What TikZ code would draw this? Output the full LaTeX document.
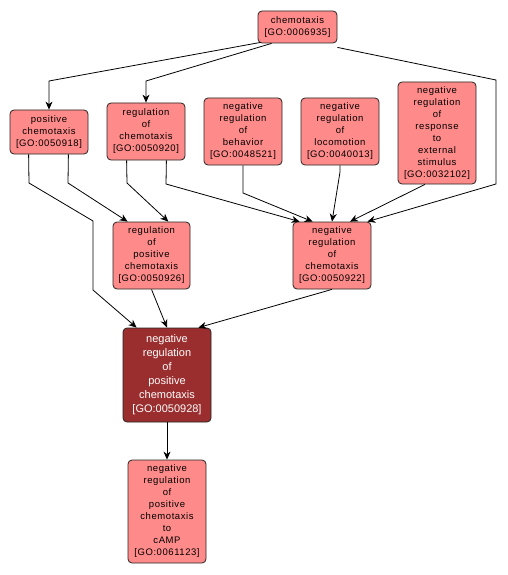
\documentclass[tikz,border=0pt]{standalone}
\usepackage{fontspec}
\setmainfont{Liberation Sans}
\newfontfamily\gofont[LetterSpace=6]{Liberation Sans}
\usetikzlibrary{arrows.meta}
\definecolor{lightgo}{HTML}{FF8A8A}
\definecolor{darkgo}{HTML}{9A2D2D}
\begin{document}
\begin{tikzpicture}[x=1pt,y=-1pt,
  gobox/.style={draw=black!85, fill=lightgo, rounded corners=4pt, minimum width=78pt,
    inner sep=0pt, align=center, line width=0.8pt,
    font=\gofont\fontsize{9.5}{12}\selectfont},
  darkbox/.style={gobox, fill=darkgo, text=white, minimum width=88pt,
    font=\fontsize{11}{14}\selectfont},
  edge/.style={draw=black, line width=0.8pt, -{Stealth[length=8pt,width=7pt,inset=2.5pt]}}]
\useasboundingbox (0,0) rectangle (507,575);
\fill[white] (0,0) rectangle (507,575);

\node[gobox, minimum width=79pt, minimum height=32pt] (chemo) at (297.5,27) {chemotaxis\\{[GO:0006935]}};
\node[gobox, minimum height=44pt] (poschemo) at (49,132) {positive\\chemotaxis\\{[GO:0050918]}};
\node[gobox, minimum height=57pt] (regchemo) at (146,131.5) {regulation\\of\\chemotaxis\\{[GO:0050920]}};
\node[gobox, minimum height=67pt] (behav) at (243,131.5) {negative\\regulation\\of\\behavior\\{[GO:0048521]}};
\node[gobox, minimum height=67pt] (locom) at (340,131.5) {negative\\regulation\\of\\locomotion\\{[GO:0040013]}};
\node[gobox, minimum height=102pt] (resp) at (437,133) {negative\\regulation\\of\\response\\to\\external\\stimulus\\{[GO:0032102]}};
\node[gobox, minimum width=77pt, minimum height=67pt] (regpos) at (151.5,255.5) {regulation\\of\\positive\\chemotaxis\\{[GO:0050926]}};
\node[gobox, minimum height=67pt] (negreg) at (332,255.5) {negative\\regulation\\of\\chemotaxis\\{[GO:0050922]}};
\node[darkbox, minimum height=94pt] (dark) at (167,375) {negative\\regulation\\of\\positive\\chemotaxis\\{[GO:0050928]}};
\node[gobox, minimum height=103pt] (camp) at (167,511.5) {negative\\regulation\\of\\positive\\chemotaxis\\to\\cAMP\\{[GO:0061123]}};

% edges
\draw[edge] ([shift={(3pt,1pt)}]chemo.south west) -- (49,81) -- (poschemo.north);
\draw[edge] ([xshift=14pt]chemo.south west) -- (146,81) -- (regchemo.north);
\draw[edge] ([yshift=-4pt]chemo.south east) -- (496,80) -- (496,184) -- ([xshift=-4pt]negreg.north east);
\draw[edge] ([xshift=19pt]poschemo.south west) -- (29,183) -- (93,221) -- (93,290) -- ([xshift=14pt]dark.north west);
\draw[edge] ([xshift=-20pt]poschemo.south east) -- (68,183) -- ([xshift=15pt]regpos.north west);
\draw[edge] ([xshift=20pt]regchemo.south west) -- (127,183) -- ([xshift=-22pt]regpos.north east);
\draw[edge] ([xshift=-19pt]regchemo.south east) -- (166,184) -- ([xshift=7pt]negreg.north west);
\draw[edge] (behav.south) -- (243,193) -- ([xshift=20pt]negreg.north west);
\draw[edge] (locom.south) -- (340,172) -- (negreg.north);
\draw[edge] ([xshift=-12pt]resp.south) -- ([xshift=18pt]negreg.north);
\draw[edge] (regpos.south) -- (dark.north);
\draw[edge] (negreg.south) -- ([xshift=-13pt]dark.north east);
\draw[edge] (dark.south) -- (camp.north);
\end{tikzpicture}
\end{document}
